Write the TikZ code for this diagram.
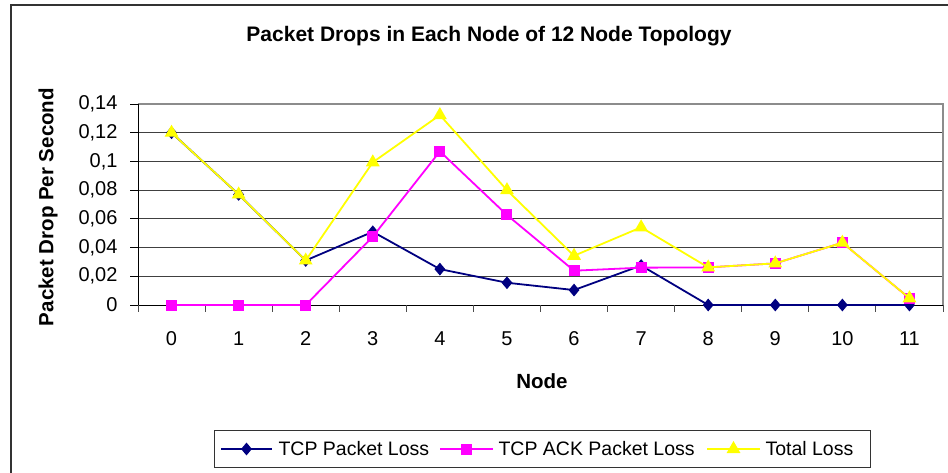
\documentclass[tikz,border=0pt]{standalone}
\usepackage{fontspec}
\setmainfont{Liberation Sans}
\usetikzlibrary{calc}
\usetikzlibrary{shapes.geometric}
\definecolor{tcpblue}{RGB}{0,0,128}
\definecolor{ackpink}{RGB}{255,0,255}
\definecolor{totyellow}{RGB}{255,255,0}

\begin{document}
\begin{tikzpicture}[x=1pt,y=1pt,
    tcpline/.style={tcpblue,line width=1.8pt,line join=round},
    ackline/.style={ackpink,line width=1.8pt,line join=round},
    totline/.style={totyellow,line width=1.8pt,line join=round},
    tcpmark/.style={diamond,fill=tcpblue,inner sep=0pt,minimum width=11pt,minimum height=13pt},
    ackmark/.style={rectangle,fill=ackpink,inner sep=0pt,minimum size=11pt},
    totmark/.style={regular polygon,regular polygon sides=3,fill=totyellow,inner sep=0pt,minimum size=16pt},
    ticklabel/.style={font=\fontsize{20}{20}\selectfont},
    legtext/.style={font=\fontsize{19.5}{20}\selectfont,anchor=west},
    axtitle/.style={font=\fontsize{20.5}{21}\selectfont\bfseries}]
\useasboundingbox (0,0) rectangle (948,472);
\clip (0,0) rectangle (948,472);
% outer frame, only top and left edges are inside the picture
\draw[black!80,line width=1.3pt] (11,-20) rectangle (980,467);
\node[font=\fontsize{21}{21}\selectfont\bfseries] (title) at (489,436) {Packet Drops in Each Node of 12 Node Topology};

\begin{scope}[shift={(138,167)},x=67.083pt,y=1435.7pt]
    % grid and frame of the plot area
    \foreach \g in {0.02,0.04,...,0.121}
        \draw[black!75,line width=0.9pt] (0,\g)--(12,\g);
    \draw[black!45,line width=2pt] (0,0.14)--(12,0.14)--(12,0);
    \draw[black,line width=1pt] (0,0.14)--(0,0)--(12,0);
    \foreach \g/\lab in {0/0,0.02/{0,02},0.04/{0,04},0.06/{0,06},0.08/{0,08},0.1/{0,1},0.12/{0,12},0.14/{0,14}}{
        \draw[black,line width=1pt] (0,\g)--++(-8pt,0);
        \node[ticklabel,anchor=east] at (-17pt,\g) {\lab};
    }
    \foreach \k in {0,...,12}
        \draw[black!70,line width=1pt] (\k,0)--++(0,-7pt);
    \foreach \k in {0,...,11}
        \node[ticklabel] (xl\k) at (\k+0.5,-34pt) {\k};

    % data points
    \foreach \v [count=\i from 0] in {0.12,0.077,0.031,0.051,0.025,0.0155,0.0104,0.0275,0,0,0,0}
        \coordinate (t\i) at (\i+0.5,\v);
    \foreach \v [count=\i from 0] in {0,0,0,0.0476,0.107,0.0627,0.0239,0.026,0.0262,0.029,0.0434,0.0047}
        \coordinate (a\i) at (\i+0.5,\v);
    \foreach \v [count=\i from 0] in {0.12,0.077,0.031,0.0994,0.1323,0.080,0.0343,0.0541,0.0262,0.029,0.0434,0.0047}
        \coordinate (s\i) at (\i+0.5,\v);

    \draw[tcpline] (t0) \foreach \i in {1,...,11}{--(t\i)};
    \foreach \i in {0,...,11} \node[tcpmark] at (t\i) {};
    \draw[ackline] (a0) \foreach \i in {1,...,11}{--(a\i)};
    \foreach \i in {0,...,11} \node[ackmark] at (a\i) {};
    \draw[totline] (s0) \foreach \i in {1,...,11}{--(s\i)};
    \foreach \i in {0,...,11} \node[totmark] at (s\i) {};
\end{scope}

\node[axtitle] (xtitle) at (542,91) {Node};
\node[axtitle,rotate=90] (ytitle) at (48,265) {Packet Drop Per Second};

% legend
\draw[black!80,line width=1pt] (214,5) rectangle (870,42);
\coordinate (l1a) at (221,23); \coordinate (l1b) at (272,23);
\coordinate (l2a) at (440,23); \coordinate (l2b) at (493,23);
\coordinate (l3a) at (707,23); \coordinate (l3b) at (760,23);
\draw[tcpline] (l1a)--(l1b);
\node[tcpmark] at ($(l1a)!0.5!(l1b)$) {};
\node[legtext] (leg1) at (275,23) {TCP Packet Loss};
\draw[ackline] (l2a)--(l2b);
\node[ackmark] at ($(l2a)!0.5!(l2b)$) {};
\node[legtext] (leg2) at (495,23) {TCP ACK Packet Loss};
\draw[totline] (l3a)--(l3b);
\node[totmark] at ($(l3a)!0.5!(l3b)$) {};
\node[legtext] (leg3) at (762,23) {Total Loss};
\end{tikzpicture}
\end{document}
